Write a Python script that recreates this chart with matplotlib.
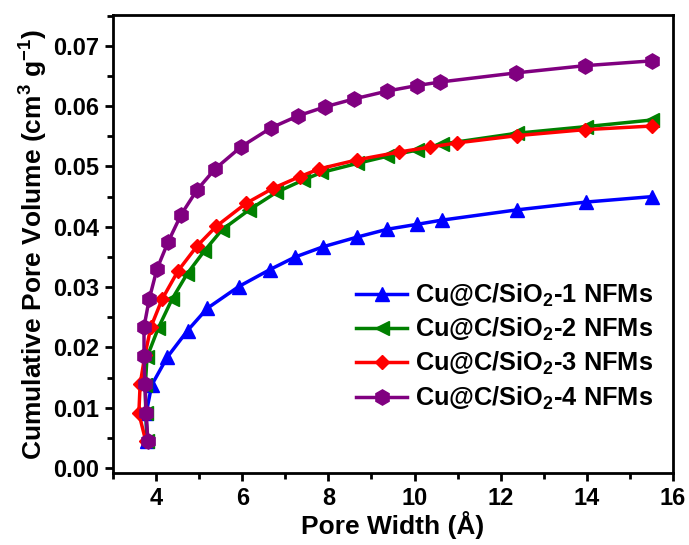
import matplotlib
matplotlib.use('Agg')
import matplotlib.pyplot as plt
from matplotlib.ticker import MultipleLocator

plt.rcParams['font.family'] = ['Liberation Sans', 'DejaVu Sans']
plt.rcParams['font.weight'] = 'bold'
plt.rcParams['mathtext.fontset'] = 'custom'
plt.rcParams['mathtext.rm'] = 'Liberation Sans:bold'
plt.rcParams['mathtext.bf'] = 'Liberation Sans:bold'
plt.rcParams['mathtext.default'] = 'bf'

# pore width (A) and cumulative pore volume (cm3/g)
x1 = [3.78, 3.77, 3.90, 4.26, 4.73, 5.19, 5.92, 6.64, 7.23, 7.88, 8.67, 9.37, 10.05, 10.63, 12.37, 13.98, 15.51]
y1 = [0.0045, 0.0091, 0.0138, 0.0184, 0.0228, 0.0265, 0.0301, 0.0329, 0.0350, 0.0367, 0.0383, 0.0396, 0.0404, 0.0411, 0.0428, 0.0441, 0.0450]

x2 = [3.80, 3.76, 3.75, 3.79, 4.05, 4.37, 4.72, 5.12, 5.53, 6.16, 6.79, 7.40, 7.84, 8.67, 9.37, 10.05, 10.63, 12.37, 13.98, 15.51]
y2 = [0.0045, 0.0091, 0.0138, 0.0184, 0.0232, 0.0280, 0.0322, 0.0360, 0.0395, 0.0428, 0.0457, 0.0477, 0.0490, 0.0505, 0.0517, 0.0527, 0.0537, 0.0555, 0.0566, 0.0577]

x3 = [3.76, 3.60, 3.63, 3.74, 3.88, 4.14, 4.51, 4.95, 5.40, 6.09, 6.72, 7.33, 7.79, 8.67, 9.65, 10.35, 10.98, 12.37, 13.95, 15.51]
y3 = [0.0045, 0.0091, 0.0139, 0.0187, 0.0234, 0.0280, 0.0327, 0.0368, 0.0401, 0.0439, 0.0464, 0.0483, 0.0496, 0.0511, 0.0524, 0.0532, 0.0539, 0.0551, 0.0561, 0.0567]

x4 = [3.81, 3.77, 3.74, 3.72, 3.72, 3.84, 4.02, 4.28, 4.58, 4.95, 5.37, 5.98, 6.67, 7.30, 7.93, 8.60, 9.37, 10.05, 10.60, 12.35, 13.95, 15.51]
y4 = [0.0045, 0.0091, 0.0139, 0.0186, 0.0234, 0.0280, 0.0330, 0.0375, 0.0420, 0.0461, 0.0496, 0.0533, 0.0564, 0.0584, 0.0599, 0.0612, 0.0625, 0.0634, 0.0640, 0.0655, 0.0667, 0.0675]

labels = ['Cu@C/SiO$_2$-1 NFMs', 'Cu@C/SiO$_2$-2 NFMs',
          'Cu@C/SiO$_2$-3 NFMs', 'Cu@C/SiO$_2$-4 NFMs']

fig = plt.figure(figsize=(6.89, 5.45), dpi=100)
ax = fig.add_axes([113 / 689, 1 - 473 / 545, 560 / 689, 458 / 545])

ax.plot(x1, y1, color='#0000ff', marker='^', ms=10, lw=2.5, label=labels[0])
ax.plot(x2, y2, color='#008000', marker='<', ms=10, lw=2.5, label=labels[1])
ax.plot(x3, y3, color='#ff0000', marker='D', ms=7.5, lw=2.5, label=labels[2])
ax.plot(x4, y4, color='#800080', marker='h', ms=11, lw=2.5, label=labels[3])

ax.set_xlim(3, 16)
ax.set_ylim(-0.0008, 0.0751)
ax.xaxis.set_major_locator(MultipleLocator(2))
ax.xaxis.set_minor_locator(MultipleLocator(1))
ax.yaxis.set_major_locator(MultipleLocator(0.01))
ax.yaxis.set_minor_locator(MultipleLocator(0.005))
ax.yaxis.set_major_formatter(matplotlib.ticker.FormatStrFormatter('%.2f'))

for s in ax.spines.values():
    s.set_linewidth(2)
ax.tick_params(which='major', direction='out', length=6, width=2, labelsize=17, pad=4)
ax.tick_params(which='minor', direction='out', length=4, width=2)

ax.set_xlabel('Pore Width (Å)', fontsize=19, fontweight='bold', labelpad=1)
ax.set_ylabel('Cumulative Pore Volume (cm$^3$ g$^{-1}$)', fontsize=19, fontweight='bold', labelpad=2)

ax.legend(loc='lower right', bbox_to_anchor=(1.005, 0.084), frameon=False,
          handlelength=2.0, handletextpad=0.3, labelspacing=0.28,
          prop={'weight': 'bold', 'size': 18.3})

fig.savefig('out.png', dpi=100)
